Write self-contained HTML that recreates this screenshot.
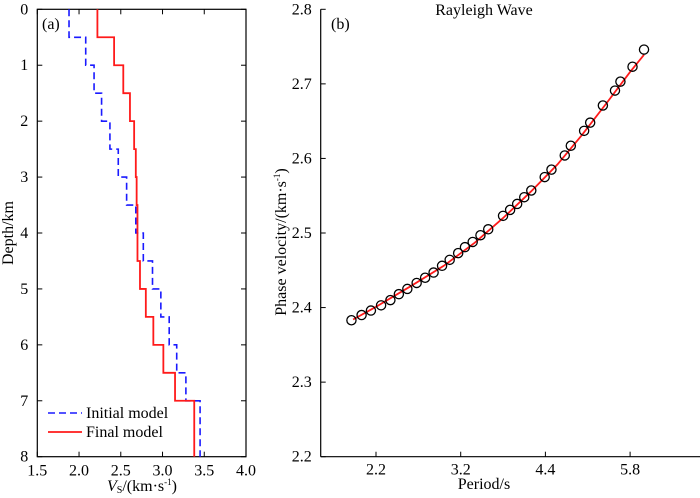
<!DOCTYPE html>
<html><head><meta charset="utf-8">
<style>
html,body{margin:0;padding:0;background:#fff;}
svg, svg text{font-family:"Liberation Serif","Times New Roman",Times,serif;}
svg{display:block;}
</style></head>
<body>
<svg id="fig" width="700" height="498" viewBox="0 0 700 498" xmlns="http://www.w3.org/2000/svg" font-family="Liberation Serif, Times New Roman, serif"></svg>
<script>
// Panel (a) data: layer depth boundaries (km) and velocities (km/s)
const layerTops = [0,0.5,1,1.5,2,2.5,3,3.5,4,4.5,5,5.5,6,6.5,7];
const layerBottoms = [0.5,1,1.5,2,2.5,3,3.5,4,4.5,5,5.5,6,6.5,7,8];
const initialVs = [1.88,2.08,2.18,2.27,2.37,2.47,2.57,2.68,2.77,2.88,2.98,3.08,3.17,3.28,3.45];
const finalVs = [2.22,2.42,2.53,2.61,2.66,2.68,2.69,2.70,2.70,2.73,2.80,2.89,3.01,3.15,3.38];
const vsTicks = [1.5,2.0,2.5,3.0,3.5,4.0];
const vsTickLabels = ["1.5","2.0","2.5","3.0","3.5","4.0"];
const depthTicks = [0,1,2,3,4,5,6,7,8];

// Panel (b) data
const periods = [1.91,2.03,2.14,2.26,2.37,2.47,2.57,2.68,2.78,2.88,2.98,3.07,3.17,3.26,3.37,3.48,3.59,3.80,3.90,4.00,4.10,4.20,4.39,4.50,4.72,4.82,5.04,5.14,5.35,5.55,5.64,5.84,6.03];
const observedVel = [2.383,2.390,2.396,2.403,2.410,2.418,2.425,2.433,2.440,2.447,2.456,2.464,2.473,2.481,2.488,2.497,2.505,2.523,2.531,2.539,2.548,2.557,2.575,2.585,2.604,2.617,2.637,2.648,2.671,2.691,2.703,2.723,2.746];
const fitPeriods = [1.93,2.2,2.6,3.0,3.4,3.8,4.2,4.6,5.0,5.4,5.8,6.03];
const fitVel = [2.384,2.401,2.428,2.456,2.487,2.520,2.556,2.592,2.631,2.673,2.716,2.739];
const periodTicks = [2.2,3.2,4.4,5.8];
const periodTickLabels = ["2.2","3.2","4.4","5.8"];
const velTicks = [2.2,2.3,2.4,2.5,2.6,2.7,2.8];
const velTickLabels = ["2.2","2.3","2.4","2.5","2.6","2.7","2.8"];

const NS="http://www.w3.org/2000/svg";
const FONT="Liberation Serif, Times New Roman, Times, serif";
const svg=document.getElementById('fig');
function mk(tag,attrs,parent){const e=document.createElementNS(NS,tag);for(const k in attrs)e.setAttribute(k,attrs[k]);if(tag==='text')e.setAttribute('font-family',FONT);(parent||svg).appendChild(e);return e;}

// ---------- Panel (a) ----------
const aL=37.3,aR=246,aT=9.3,aB=456.7;
const ax=v=>aL+(v-1.5)/(4.0-1.5)*(aR-aL);
const ay=d=>aT+d/8*(aB-aT);
const gA=mk('g',{});


const boxA=mk('rect',{x:aL,y:aT,width:aR-aL,height:aB-aT,fill:'none',stroke:'#000','stroke-width':1.2},gA);


vsTicks.forEach((v,i)=>{
  const x=ax(v);
  const t1=mk('line',{x1:x,y1:aB,x2:x,y2:aB-5,stroke:'#000','stroke-width':1},gA);
  
  
  const t2=mk('line',{x1:x,y1:aT,x2:x,y2:aT+5,stroke:'#000','stroke-width':1},gA);
  
  
  const tx=mk('text',{x:x,y:aB+19,'font-size':16,'text-anchor':'middle'},gA);
  tx.textContent=vsTickLabels[i];
  
  
});
depthTicks.forEach(d=>{
  const y=ay(d);
  const t1=mk('line',{x1:aL,y1:y,x2:aL+5,y2:y,stroke:'#000','stroke-width':1},gA);
  
  
  const t2=mk('line',{x1:aR,y1:y,x2:aR-5,y2:y,stroke:'#000','stroke-width':1},gA);
  
  
  const tx=mk('text',{x:aL-9,y:y+5,'font-size':16,'text-anchor':'end'},gA);
  tx.textContent=String(d);
  
  
});
function stepPath(vals){
  let p='';
  vals.forEach((v,i)=>{
    p+=(i===0?'M':'L')+ax(v)+','+ay(layerTops[i])+' L'+ax(v)+','+ay(layerBottoms[i])+' ';
  });
  return p;
}
const initLine=mk('path',{d:stepPath(initialVs),fill:'none',stroke:'#1a1aff','stroke-width':1.6,'stroke-dasharray':'7,4'},gA);


const finLine=mk('path',{d:stepPath(finalVs),fill:'none',stroke:'#ff1a1a','stroke-width':1.8},gA);


const labA=mk('text',{x:42,y:29,'font-size':16},gA);
labA.textContent='(a)';


// legend
const lg=mk('g',{},gA);


const l1=mk('line',{x1:48,y1:413,x2:82,y2:413,stroke:'#1a1aff','stroke-width':1.6,'stroke-dasharray':'7,4'},lg);


const lt1=mk('text',{x:86,y:418,'font-size':16},lg);
lt1.textContent='Initial model';


const l2=mk('line',{x1:48,y1:432,x2:82,y2:432,stroke:'#ff1a1a','stroke-width':1.8},lg);


const lt2=mk('text',{x:86,y:437,'font-size':16},lg);
lt2.textContent='Final model';


const xtA=mk('text',{x:142,y:491,'font-size':16,'text-anchor':'middle'},gA);
xtA.innerHTML='<tspan font-style="italic">V</tspan><tspan font-size="10" dy="2">S</tspan><tspan dy="-2">/(km·s</tspan><tspan font-size="9" dy="-6">-1</tspan><tspan dy="6">)</tspan>';


const ytA=mk('text',{x:0,y:0,'font-size':16,'text-anchor':'middle',transform:'translate(13,233) rotate(-90)'},gA);
ytA.textContent='Depth/km';



// ---------- Panel (b) ----------
const bL=320.7,bR=700,bT=9.3,bB=456.7;
const tickX0=376,tickStep=84.7;
function periodToU(p){
  const t=periodTicks;
  if(p<=t[1]) return (p-t[0])/(t[1]-t[0]);
  for(let i=1;i<t.length-1;i++){ if(p<=t[i+1]) return i+(p-t[i])/(t[i+1]-t[i]); }
  const n=t.length-1; return n+(p-t[n])/(t[n]-t[n-1]);
}
const bx=p=>tickX0+periodToU(p)*tickStep;
const by=v=>bT+(2.8-v)/0.6*(bB-bT);
const gB=mk('g',{});


const yAxB=mk('line',{x1:bL,y1:bT,x2:bL,y2:bB,stroke:'#000','stroke-width':1.2},gB);


const xAxB=mk('line',{x1:bL,y1:bB,x2:bR,y2:bB,stroke:'#000','stroke-width':1.2},gB);


velTicks.forEach((v,i)=>{
  const y=by(v);
  const t=mk('line',{x1:bL,y1:y,x2:bL+5,y2:y,stroke:'#000','stroke-width':1},gB);
  
  
  const tx=mk('text',{x:bL-9,y:y+5,'font-size':16,'text-anchor':'end'},gB);
  tx.textContent=velTickLabels[i];
  
  
});
periodTicks.forEach((p,i)=>{
  const x=bx(p);
  const t=mk('line',{x1:x,y1:bB,x2:x,y2:bB-5,stroke:'#000','stroke-width':1},gB);
  
  
  const tx=mk('text',{x:x,y:bB+18,'font-size':16,'text-anchor':'middle'},gB);
  tx.textContent=periodTickLabels[i];
  
  
});
let fd='';
fitPeriods.forEach((p,i)=>{fd+=(i===0?'M':'L')+bx(p).toFixed(1)+','+by(fitVel[i]).toFixed(1)+' ';});
const fit=mk('path',{d:fd,fill:'none',stroke:'#ff1a1a','stroke-width':1.8},gB);


periods.forEach((p,i)=>{
  const c=mk('circle',{cx:bx(p),cy:by(observedVel[i]),r:4.6,fill:'none',stroke:'#000','stroke-width':1.3},gB);
  
  
});
const labB=mk('text',{x:331,y:29,'font-size':16},gB);
labB.textContent='(b)';


const title=mk('text',{x:484,y:15,'font-size':16,'text-anchor':'middle'},gB);
title.textContent='Rayleigh Wave';


const xtB=mk('text',{x:484,y:489,'font-size':16,'text-anchor':'middle'},gB);
xtB.textContent='Period/s';


const ytB=mk('text',{x:0,y:0,'font-size':16,'text-anchor':'middle',transform:'translate(286,242) rotate(-90)'},gB);
ytB.innerHTML='Phase velocity/(km·s<tspan font-size="9" dy="-6">-1</tspan><tspan dy="6">)</tspan>';


</script>
</body></html>
